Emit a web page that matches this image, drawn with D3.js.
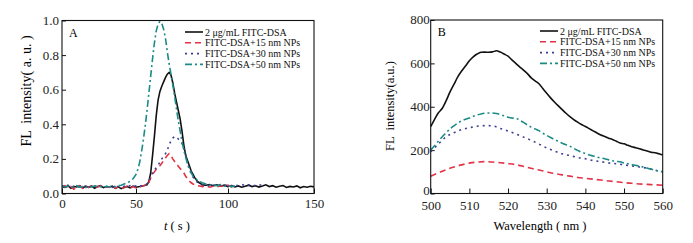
<!DOCTYPE html>
<html>
<head>
<meta charset="utf-8">
<script src="https://cdn.jsdelivr.net/npm/d3@7"></script>
<style>
  body { margin: 0; background: #fff; }
  svg { display: block; font-family: "Liberation Serif", "Times New Roman", serif; }
</style>
</head>
<body>
<svg id="chart" width="693" height="243"></svg>
<script>
// legend / series names
var seriesNames = ['2 μg/mL FITC-DSA', 'FITC-DSA+15 nm NPs', 'FITC-DSA+30 nm NPs', 'FITC-DSA+50 nm NPs']
var seriesColors = ['#111111', '#e23347', '#3b3f8f', '#1b8b86']
var seriesDash = [null, '6,4', '2,4', '7,3,2,3']

// panel A: time (s) vs FL intensity
var ticksA_x = [0, 50, 100, 150]
var ticksA_y = [0, 0.2, 0.4, 0.6, 0.8, 1.0]
var a_black = [[0,.04],[2,.035],[4,.045],[6,.03],[8,.04],[10,.038],[12,.045],[14,.032],[16,.042],[18,.036],[20,.044],[22,.03],[24,.04],[26,.046],[28,.034],[30,.04],[32,.036],[34,.043],[36,.03],[38,.038],[40,.028],[42,.035],[44,.04],[46,.032],[48,.042],[50,.036],[52,.04],[54,.045],[56,.05],[57,.07],[58,.12],[59,.22],[60,.33],[61,.45],[62,.54],[63,.59],[64,.62],[65,.645],[66,.67],[67,.69],[68,.70],[69,.685],[70,.64],[71,.58],[72,.53],[73,.48],[74,.43],[75,.36],[76,.28],[77,.22],[78,.19],[79,.16],[80,.13],[81,.11],[82,.09],[83,.075],[84,.065],[85,.058],[86,.05],[88,.048],[90,.052],[92,.045],[94,.05],[96,.042],[98,.048],[100,.04],[102,.046],[104,.038],[106,.044],[108,.036],[110,.042],[112,.048],[114,.04],[116,.045],[118,.037],[120,.043],[122,.05],[124,.04],[126,.045],[128,.036],[130,.042],[132,.046],[134,.035],[136,.041],[138,.038],[140,.044],[142,.033],[144,.04],[146,.036],[148,.042],[150,.038]]
var a_np15 = [[0,.04],[2,.045],[4,.03],[6,.04],[8,.025],[10,.038],[12,.044],[14,.03],[16,.04],[18,.035],[20,.042],[22,.03],[24,.038],[26,.044],[28,.032],[30,.04],[32,.035],[34,.045],[36,.03],[38,.04],[40,.028],[42,.036],[44,.042],[46,.03],[48,.04],[50,.032],[52,.038],[54,.045],[56,.05],[57,.065],[58,.09],[59,.11],[60,.125],[61,.14],[62,.15],[63,.16],[64,.175],[65,.19],[66,.205],[67,.22],[68,.23],[69,.22],[70,.2],[71,.185],[72,.17],[73,.158],[74,.145],[75,.13],[76,.118],[77,.1],[78,.085],[79,.072],[80,.062],[81,.055],[82,.05],[84,.045],[86,.04],[88,.044],[90,.036],[92,.042],[94,.038],[96,.045],[98,.04],[100,.048],[102,.038],[104,.044]]
var a_np30 = [[0,.045],[2,.038],[4,.048],[6,.035],[8,.042],[10,.04],[12,.036],[14,.045],[16,.038],[18,.042],[20,.035],[22,.044],[24,.04],[26,.036],[28,.046],[30,.038],[32,.042],[34,.035],[36,.044],[38,.04],[40,.036],[42,.042],[44,.038],[46,.045],[48,.04],[50,.044],[52,.04],[54,.048],[56,.055],[57,.07],[58,.1],[59,.12],[60,.135],[61,.15],[62,.165],[63,.18],[64,.2],[65,.215],[66,.23],[67,.25],[68,.28],[69,.305],[70,.32],[71,.33],[72,.325],[73,.315],[74,.305],[75,.29],[76,.26],[77,.225],[78,.18],[79,.14],[80,.115],[81,.095],[82,.08],[83,.068],[84,.06],[86,.052],[88,.05],[90,.045],[92,.05],[94,.044],[96,.052],[98,.046],[100,.05],[102,.044],[104,.05],[106,.045],[108,.052],[110,.046],[112,.05],[114,.042],[116,.048],[118,.052],[120,.045]]
var a_np50 = [[0,.045],[2,.038],[4,.042],[6,.035],[8,.04],[10,.045],[12,.036],[14,.04],[16,.034],[18,.042],[20,.038],[22,.044],[24,.036],[26,.04],[28,.035],[30,.042],[32,.038],[34,.044],[36,.04],[38,.045],[40,.048],[42,.055],[44,.062],[46,.07],[48,.085],[50,.11],[51,.14],[52,.18],[53,.24],[54,.31],[55,.39],[56,.48],[57,.58],[58,.68],[59,.78],[60,.87],[61,.94],[62,.98],[63,.995],[64,.985],[65,.95],[66,.9],[67,.82],[68,.75],[69,.69],[70,.63],[71,.56],[72,.49],[73,.42],[74,.36],[75,.3],[76,.25],[77,.21],[78,.17],[79,.14],[80,.12],[81,.1],[82,.088],[84,.072],[86,.062],[88,.055],[90,.05],[92,.048],[94,.045],[96,.05],[98,.042],[100,.046],[102,.04],[104,.044]]

// panel B: wavelength (nm) vs FL intensity
var ticksB_x = [500, 510, 520, 530, 540, 550, 560]
var ticksB_y = [0, 200, 400, 600, 800]
var b_black = [[500,308],[501,342],[502,372],[503,393],[504,428],[505,469],[506,503],[507,538],[508,565],[509,588],[510,612],[511,630],[512,643],[513,651],[514,652],[515,651],[516,653],[517,658],[518,652],[519,643],[520,633],[521,616],[522,600],[523,584],[524,569],[525,553],[526,533],[527,519],[528,506],[529,484],[530,462],[531,441],[532,422],[533,404],[534,387],[535,370],[536,355],[537,341],[538,329],[539,318],[540,309],[541,299],[542,289],[543,279],[544,270],[545,263],[546,255],[547,249],[548,241],[549,233],[550,229],[551,222],[552,216],[553,211],[554,206],[555,201],[556,196],[557,190],[558,188],[559,183],[560,177]]
var b_np15 = [[500,80],[502,95],[504,110],[506,122],[508,132],[510,140],[512,145],[514,147],[516,145],[518,142],[520,138],[522,133],[524,125],[526,116],[528,108],[530,100],[532,92],[534,86],[536,80],[538,74],[540,70],[542,66],[544,62],[546,58],[548,54],[550,50],[552,47],[554,44],[556,42],[558,40],[560,38]]
var b_np30 = [[500,193],[502,228],[504,262],[506,280],[508,295],[510,303],[512,310],[514,313],[516,312],[518,300],[520,288],[522,275],[524,260],[526,245],[528,228],[530,210],[532,196],[534,183],[536,175],[538,166],[540,160],[542,152],[544,147],[546,141],[548,137],[550,132],[552,127],[554,122],[556,117],[558,108],[560,100]]
var b_np50 = [[500,200],[501,220],[502,242],[503,262],[504,280],[505,298],[506,312],[507,325],[508,335],[509,342],[510,348],[511,356],[512,362],[513,367],[514,370],[515,371],[516,371],[517,369],[518,364],[519,358],[520,352],[521,348],[522,347],[523,338],[524,328],[525,316],[526,306],[527,298],[528,290],[529,278],[530,268],[531,258],[532,249],[533,240],[534,232],[535,225],[536,218],[537,208],[538,199],[539,190],[540,185],[541,178],[542,173],[543,168],[544,164],[545,160],[546,155],[547,151],[548,148],[549,146],[550,141],[551,137],[552,133],[553,130],[554,126],[555,122],[556,117],[557,112],[558,107],[559,103],[560,100]]

var svg = d3.select('#chart')

function panel(cfg) {
    var x = cfg.x, y = cfg.y
    var g = svg.append('g')
    var left = x.range()[0], right = x.range()[x.range().length - 1]
    var top = y.range()[1], bottom = y.range()[0]

    g.append('clipPath').attr('id', cfg.id + 'clip')
        .append('rect').attr('x', left).attr('y', top)
        .attr('width', right - left).attr('height', bottom - top)

    var xAxis = d3.axisBottom(x).tickValues(cfg.xTicks).tickSizeInner(-5).tickSizeOuter(0)
        .tickPadding(cfg.xPad).tickFormat(d => d)
    var yAxis = d3.axisLeft(y).tickValues(cfg.yTicks).tickSizeInner(-4).tickSizeOuter(0)
        .tickPadding(cfg.yPad).tickFormat(cfg.yFormat)

    g.append('g').attr('transform', 'translate(0,' + bottom + ')').call(xAxis)
    var ya = g.append('g').attr('transform', 'translate(' + left + ',0)').call(yAxis)
    g.selectAll('.domain').remove()
    g.selectAll('.tick line').attr('stroke', '#111')
    g.selectAll('.tick text').attr('font-size', 13).attr('fill', '#222')
        .attr('font-family', '"Liberation Serif", "Times New Roman", serif')
    ya.selectAll('.tick text').attr('dy', d => d === 0 ? cfg.yDy0 : '0.3em')

    var line = d3.line().x(d => x(d[0])).y(d => y(d[1])).curve(cfg.curve)
    cfg.series.forEach((s, i) => {
        g.append('path')
            .attr('clip-path', 'url(#' + cfg.id + 'clip)')
            .attr('d', line(s))
            .attr('fill', 'none')
            .attr('stroke', seriesColors[i])
            .attr('stroke-width', 1.6)
            .attr('stroke-dasharray', seriesDash[i])
    })

    g.append('rect').attr('x', left).attr('y', top)
        .attr('width', right - left).attr('height', bottom - top)
        .attr('fill', 'none').attr('stroke', '#111').attr('stroke-width', 1.1)

    g.append('text').attr('x', left + 7).attr('y', top + 16)
        .attr('font-size', 12).text(cfg.id)

    // legend
    var lg = g.append('g')
    seriesNames.forEach((name, i) => {
        var yy = cfg.legY + i * 10.8
        lg.append('line').attr('x1', cfg.legX).attr('x2', cfg.legX + 18)
            .attr('y1', yy).attr('y2', yy)
            .attr('stroke', seriesColors[i]).attr('stroke-width', 1.6)
            .attr('stroke-dasharray', seriesDash[i])
        lg.append('text').attr('x', cfg.legX + 20).attr('y', yy + 3.5)
            .attr('font-size', 10).attr('fill', '#111').text(name)
    })

    // axis titles
    g.append('text')
        .attr('transform', 'translate(' + cfg.yTitleX + ',' + cfg.yTitleY + ') rotate(-90)')
        .attr('text-anchor', 'middle').attr('font-size', cfg.yTitleSize)
        .style('white-space', 'pre')
        .text(cfg.yTitle)
    var xt = g.append('text').attr('x', cfg.xTitleX).attr('y', 230)
        .attr('text-anchor', 'middle').attr('font-size', 12.5)
        .style('white-space', 'pre')
    cfg.xTitle(xt)
}

panel({
    id: 'A',
    x: d3.scaleLinear().domain(ticksA_x).range([62, 136, 228, 314]),
    y: d3.scaleLinear().domain([0, 1]).range([193.5, 20.5]),
    xTicks: ticksA_x, yTicks: ticksA_y,
    yFormat: d3.format('.1f'), yPad: 3, xPad: 5, yDy0: '0.3em',
    curve: d3.curveLinear,
    series: [a_black, a_np15, a_np30, a_np50],
    legX: 185, legY: 32,
    yTitle: 'FL  intensity( a. u. )', yTitleX: 31, yTitleY: 91, yTitleSize: 14,
    xTitleX: 177,
    xTitle: t => {
        t.append('tspan').attr('font-style', 'italic').text('t')
        t.append('tspan').text(' ( s )')
    }
})

panel({
    id: 'B',
    x: d3.scaleLinear().domain([500, 560]).range([430.7, 662.7]),
    y: d3.scaleLinear().domain([0, 800]).range([193.5, 20]),
    xTicks: ticksB_x, yTicks: ticksB_y,
    yFormat: d => d, yPad: 1, xPad: 7, yDy0: '0.05em',
    curve: d3.curveMonotoneX,
    series: [b_black, b_np15, b_np30, b_np50],
    legX: 540, legY: 31,
    yTitle: 'FL  intensity(a.u.)', yTitleX: 394, yTitleY: 106, yTitleSize: 12.5,
    xTitleX: 540,
    xTitle: t => t.text('Wavelength ( nm )')
})
</script>
</body>
</html>
